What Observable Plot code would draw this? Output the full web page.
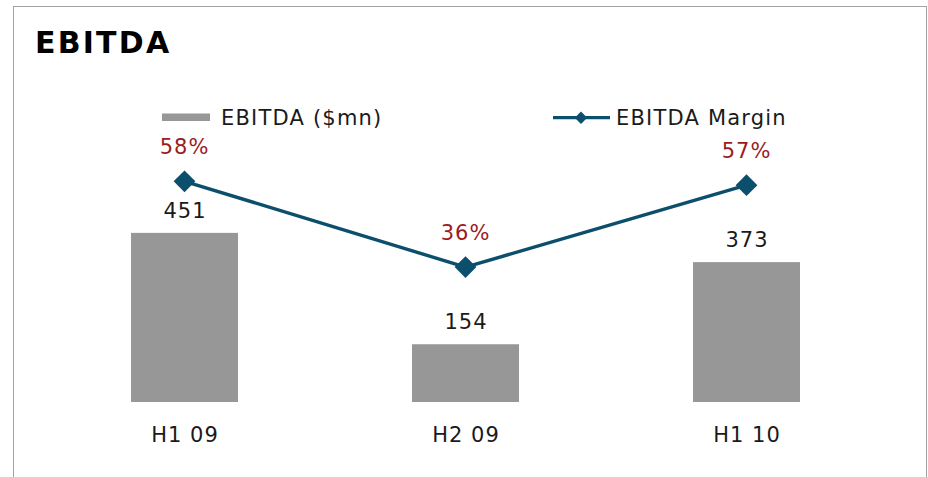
<!DOCTYPE html>
<html>
<head>
<meta charset="utf-8">
<script src="https://cdn.jsdelivr.net/npm/d3@7"></script>
<script src="https://cdn.jsdelivr.net/npm/@observablehq/plot@0.6"></script>
<style>
  html, body { margin: 0; padding: 0; background: #fff; }
  body { width: 928px; height: 477px; overflow: hidden; position: relative;
         font-family: "DejaVu Sans", Verdana, sans-serif; }
  #frame { position: absolute; left: 13px; top: 6px; width: 914px; height: 540px;
           border: 1px solid #a3a3a3; box-sizing: border-box; }
  #title { position: absolute; left: 35px; top: 28px; font-size: 30px; line-height: 30px;
           font-weight: bold; letter-spacing: 2.2px; color: #000; white-space: nowrap; }
  .leg { position: absolute; top: 107.5px; font-size: 21px; line-height: 21px;
         letter-spacing: 1.2px; color: #1a1a1a; white-space: nowrap; }
  .sw { position: absolute; }
  #chart { position: absolute; left: 0; top: 0; width: 928px; height: 477px; }
  #chart svg { position: absolute; left: 0; top: 0; }
</style>
</head>
<body>
<div id="frame"></div>
<div id="title">EBITDA</div>
<svg class="sw" style="left:160px;top:108px" width="52" height="20"><rect x="2" y="5.5" width="48" height="7.5" fill="#979797"/></svg>
<div class="leg" style="left:221px">EBITDA ($mn)</div>
<svg class="sw" style="left:550px;top:108px" width="64" height="20"><line x1="3" x2="60" y1="9.7" y2="9.7" stroke="#0c4f6c" stroke-width="3.3"/><path d="M31,3.5 L37.2,9.7 L31,15.9 L24.8,9.7 Z" fill="#0c4f6c"/></svg>
<div class="leg" style="left:616px">EBITDA Margin</div>
<div id="chart"></div>
<script>
const periods = ["H1 09", "H2 09", "H1 10"];
const ebitdaValues = [451, 154, 373];
const marginValues = [58, 36, 57];

const rows = periods.map((p, i) => ({ period: p, ebitda: ebitdaValues[i], margin: marginValues[i] }));

const font = "'DejaVu Sans', Verdana, sans-serif";
const xScale = { domain: periods, paddingInner: 0.62, paddingOuter: 0.31 };

const bars = Plot.plot({
  width: 928, height: 477,
  marginLeft: 43, marginRight: 41, marginTop: 139.5, marginBottom: 75,
  x: xScale,
  y: { domain: [0, 700], axis: null },
  style: { fontFamily: font, fontSize: "21px", background: "transparent", color: "#1a1a1a" },
  marks: [
    Plot.barY(rows, { x: "period", y: "ebitda", fill: "#979797" }),
    Plot.text(rows, { x: "period", y: "ebitda", text: d => String(d.ebitda), dy: -22,
                      fill: "#1a1a1a", fontSize: 21 }),
    Plot.axisX({ tickSize: 0, tickPadding: 25, fontSize: 21, fill: "#1a1a1a", label: null })
  ]
});

const line = Plot.plot({
  width: 928, height: 477,
  marginLeft: 43, marginRight: 41, marginTop: 134, marginBottom: 70,
  x: { ...xScale, axis: null },
  y: { domain: [0, 70], axis: null },
  style: { fontFamily: font, fontSize: "21px", background: "transparent" },
  marks: [
    Plot.line(rows, { x: "period", y: "margin", stroke: "#0c4f6c", strokeWidth: 3.4 }),
    Plot.dot(rows, { x: "period", y: "margin", symbol: "diamond2", r: 9.8, fill: "#0c4f6c", stroke: "none" }),
    Plot.text(rows, { x: "period", y: "margin", text: d => d.margin + "%", dy: -34,
                      fill: "#9a1c1f", fontSize: 21 })
  ]
});

const chart = document.getElementById("chart");
chart.appendChild(bars);
chart.appendChild(line);
document.querySelectorAll("#chart svg text").forEach(t => t.style.letterSpacing = "1px");
</script>
</body>
</html>
